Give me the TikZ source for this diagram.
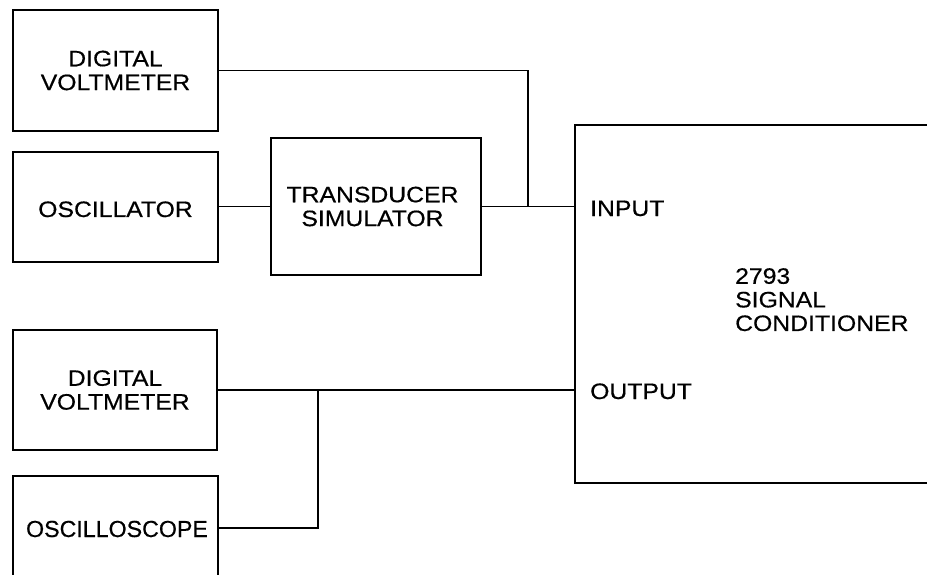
\documentclass[tikz,border=0pt]{standalone}
\usepackage{fontspec}
\newfontfamily\labfont{Liberation Sans}[FakeStretch=1.11,FakeBold=0.5]
\newfontfamily\labfontn{Liberation Sans}[FakeBold=0.5]
\begin{document}
\begin{tikzpicture}[x=1pt,y=-1pt,
  box/.style={draw=black,line width=1.3pt,rectangle,inner sep=0pt,anchor=center,
    font=\labfont\fontsize{22.3}{23.8}\selectfont,align=center},
  txt/.style={inner sep=0pt,font=\labfont\fontsize{22.3}{23.6}\selectfont,align=left},
  wire/.style={line width=1.4pt,draw=black}]
\useasboundingbox (0,0) rectangle (927,575);
\clip (0,0) rectangle (927,575);
\fill[white] (0,0) rectangle (927,575);
\node[box,minimum width=205pt,minimum height=121pt] (dvm1) at (115.5,70.5) {DIGITAL\\VOLTMETER};
\node[box,minimum width=205pt,minimum height=110pt,text height=20pt,text depth=0pt] (osc) at (115.5,207) {OSCILLATOR};
\node[box,minimum width=210pt,minimum height=137pt] (ts) at (376,206.5) {\hspace*{-7pt}TRANSDUCER\\\hspace*{-7pt}SIMULATOR};
\node[box,minimum width=370pt,minimum height=358pt] (sc) at (760,304) {};
\node[box,minimum width=204pt,minimum height=120pt] (dvm2) at (115,390) {DIGITAL\\VOLTMETER};
\node[box,minimum width=205pt,minimum height=124pt] (scope) at (115.5,538) {};
\node[inner sep=0pt,anchor=base,font=\labfontn\fontsize{23.2}{24}\selectfont] (scopetxt) at (117,537) {OSCILLOSCOPE};
\node[txt,anchor=base west] (in) at (590,216) {INPUT};
\node[txt,anchor=base west] (out) at (590,399) {OUTPUT};
\node[txt,anchor=north west] (sclab) at (735,268) {2793\\SIGNAL\\CONDITIONER};
\coordinate (j1) at (528,207);
\coordinate (j2) at (318,391);
\draw[wire] (dvm1.east) -| (j1);
\draw[wire] (osc.east |- ts.west) -- (ts.west);
\draw[wire] (ts.east) -- (ts.east -| sc.west);
\draw[wire] (dvm2.east) -- (dvm2.east -| sc.west);
\draw[wire] (scope.east |- 0,528) -| (j2);
\end{tikzpicture}
\end{document}
